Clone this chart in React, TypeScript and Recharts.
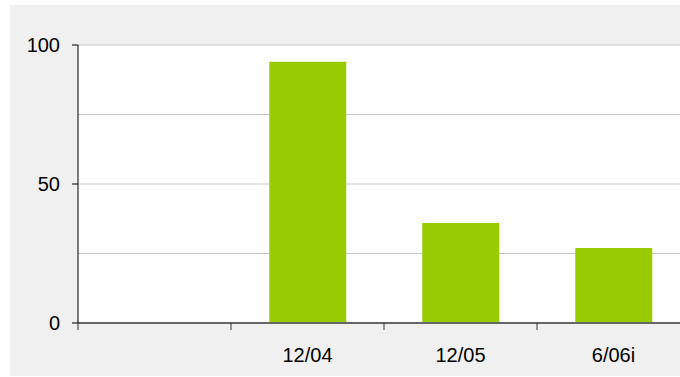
import React from "react";
import { BarChart, Bar, XAxis, YAxis, CartesianGrid } from "recharts";

const categories = ["", "12/04", "12/05", "6/06i"];
const values: (number | null)[] = [null, 94, 36, 27];
const yTicks = [0, 25, 50, 75, 100];
const yLabelTicks = [0, 50, 100];

const data = categories.map((c, i) => ({ name: c, value: values[i] }));

const FONT = "Arial, 'Liberation Sans', sans-serif";

const YTick = (props: any) => {
  const { x, y, payload } = props;
  if (!yLabelTicks.includes(payload.value)) return null;
  return (
    <g>
      <line x1={x - 6} x2={x} y1={y} y2={y} stroke="#000" strokeWidth={1} />
      <text x={x - 18} y={y + 7} textAnchor="end" fontSize={20} fontFamily={FONT} fill="#000">
        {payload.value}
      </text>
    </g>
  );
};

const XTick = (props: any) => {
  const { x, y, payload } = props;
  const left = x - (payload.offset || 0);
  return (
    <g>
      <line x1={left} x2={left} y1={y} y2={y + 7} stroke="#333" strokeWidth={1} />
      <text x={x} y={y + 39} textAnchor="middle" fontSize={20} fontFamily={FONT} fill="#000">
        {payload.value}
      </text>
    </g>
  );
};

export default function App() {
  return (
    <div
      style={{
        position: "absolute",
        left: 10,
        top: 5,
        width: 670,
        height: 371,
        overflow: "hidden",
        background: "#f0f0f0",
      }}
    >
      <BarChart
        width={690}
        height={371}
        data={data}
        margin={{ top: 40, right: 10, left: 8, bottom: 13 }}
        barCategoryGap="25%"
      >
        <CartesianGrid vertical={false} stroke="#c8c8c8" fill="#ffffff" />
        <XAxis
          dataKey="name"
          height={40}
          tickLine={false}
          tickSize={0}
          tickMargin={0}
          axisLine={{ stroke: "#666666", strokeWidth: 2 }}
          tick={<XTick />}
          interval={0}
        />
        <YAxis
          width={60}
          domain={[0, 100]}
          ticks={yTicks}
          tickLine={false}
          tickSize={0}
          tickMargin={0}
          axisLine={{ stroke: "#000000", strokeWidth: 1 }}
          tick={<YTick />}
          interval={0}
        />
        <Bar dataKey="value" fill="#99cc00" isAnimationActive={false} />
      </BarChart>
    </div>
  );
}
